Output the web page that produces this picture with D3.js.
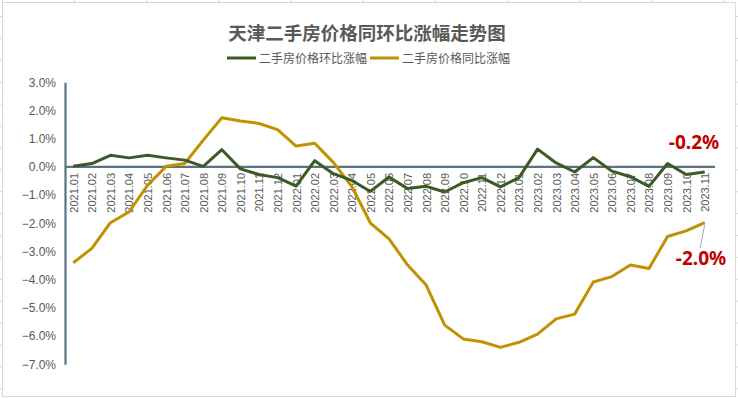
<!DOCTYPE html>
<html><head><meta charset="utf-8">
<script src="https://cdn.jsdelivr.net/npm/d3@7/dist/d3.min.js"></script>
<style>
html,body{margin:0;padding:0;background:#fff;}
svg{display:block;font-family:"Noto Sans CJK SC","Noto Sans",sans-serif;}
</style></head>
<body><svg id="c" width="738" height="398"></svg>
<script>
const categories = ["2021.01","2021.02","2021.03","2021.04","2021.05","2021.06","2021.07","2021.08","2021.09","2021.10","2021.11","2021.12",
"2022.01","2022.02","2022.03","2022.04","2022.05","2022.06","2022.07","2022.08","2022.09","2022.10","2022.11","2022.12",
"2023.01","2023.02","2023.03","2023.04","2023.05","2023.06","2023.07","2023.08","2023.09","2023.10","2023.11"];
const momValues = [0.02,0.12,0.41,0.32,0.41,0.32,0.24,0.02,0.61,-0.07,-0.27,-0.38,
-0.68,0.22,-0.24,-0.48,-0.87,-0.36,-0.77,-0.69,-0.89,-0.56,-0.38,-0.71,
-0.38,0.63,0.14,-0.18,0.33,-0.15,-0.35,-0.69,0.12,-0.27,-0.18];
const yoyValues = [-3.40,-2.89,-1.98,-1.60,-0.65,0.02,0.12,0.95,1.74,1.63,1.54,1.32,
0.74,0.84,0.16,-0.70,-1.99,-2.55,-3.48,-4.19,-5.61,-6.10,-6.20,-6.40,
-6.22,-5.93,-5.39,-5.22,-4.08,-3.89,-3.48,-3.60,-2.47,-2.27,-1.98];
const yTicks = [3,2,1,0,-1,-2,-3,-4,-5,-6,-7];
const seriesNames = ["二手房价格环比涨幅","二手房价格同比涨幅"];
const title = "天津二手房价格同环比涨幅走势图";
const lastLabels = ["-0.2%","-2.0%"];

const svg = d3.select("#c");
// spreadsheet grid stubs
const gridG = svg.append("g").attr("stroke","#d9d9d9").attr("stroke-width",1);
for (let x=2.5; x<738; x+=72.1) gridG.append("line").attr("x1",x).attr("x2",x).attr("y1",0).attr("y2",3);
for (let y=16.5; y<398; y+=21.9) { gridG.append("line").attr("x1",0).attr("x2",3).attr("y1",y).attr("y2",y);
  gridG.append("line").attr("x1",735).attr("x2",738).attr("y1",y).attr("y2",y); }
svg.append("rect").attr("x",2.5).attr("y",2.5).attr("width",733).attr("height",394)
  .attr("fill","#fff").attr("stroke","#d9d9d9").attr("stroke-width",1);

const x = d3.scalePoint().domain(categories).range([64,714]).padding(0.5);
const y = d3.scaleLinear().domain([-7,3]).range([364.3,82.3]);
const axisColor = "#5a7282";

// title
svg.append("text").attr("x",367).attr("y",40).attr("text-anchor","middle")
  .attr("font-size",18.5).attr("font-weight","bold").attr("fill","#595959").text(title);

// legend
const legendItems = [{name:seriesNames[0],color:"#3b5a25",x:227},{name:seriesNames[1],color:"#c09100",x:370}];
legendItems.forEach(d=>{
  svg.append("line").attr("x1",d.x).attr("x2",d.x+29).attr("y1",58).attr("y2",58)
    .attr("stroke",d.color).attr("stroke-width",3);
  svg.append("text").attr("x",d.x+32).attr("y",62.5).attr("font-size",12).attr("fill","#595959").text(d.name);
});

// y axis
const yAxis = d3.axisLeft(y).tickValues(yTicks).tickSize(0).tickPadding(9).tickFormat(d=>d3.format(".1f")(d)+"%");
const gy = svg.append("g").attr("transform","translate(65,0)").call(yAxis);
gy.select(".domain").attr("stroke",axisColor).attr("stroke-width",2.2);
gy.selectAll("text").attr("font-size",12).attr("fill","#595959").attr("font-family","Liberation Sans, Arial, sans-serif");

// zero line
svg.append("line").attr("x1",65).attr("x2",715).attr("y1",y(0)).attr("y2",y(0))
  .attr("stroke",axisColor).attr("stroke-width",2.2);

// x labels
const xAxis = d3.axisBottom(x).tickSize(0);
const gx = svg.append("g").attr("transform",`translate(0,${y(0)})`).call(xAxis);
gx.select(".domain").remove();
gx.selectAll("text").attr("font-size",11).attr("fill","#595959").attr("font-family","Liberation Sans, Arial, sans-serif")
  .attr("text-anchor","end").attr("dy","0.35em")
  .attr("transform","translate(0,6) rotate(-90)").attr("x",0).attr("y",0);

// lines
const line = vals => d3.line().x((d,i)=>x(categories[i])).y(d=>y(d))(vals);
svg.append("path").attr("d",line(yoyValues)).attr("fill","none").attr("stroke","#c09100")
  .attr("stroke-width",3).attr("stroke-linejoin","round");
svg.append("path").attr("d",line(momValues)).attr("fill","none").attr("stroke","#3b5a25")
  .attr("stroke-width",3).attr("stroke-linejoin","round");

// data labels
const lastCat = categories[categories.length-1];
svg.append("text").attr("x",694).attr("y",149).attr("text-anchor","middle").attr("font-size",19)
  .attr("font-weight","bold").attr("fill","#c00000").attr("font-family","Noto Sans, sans-serif").text(lastLabels[0]);
svg.append("line").attr("x1",x(lastCat)).attr("y1",y(yoyValues[yoyValues.length-1])+2)
  .attr("x2",x(lastCat)-4.5).attr("y2",y(yoyValues[yoyValues.length-1])+25)
  .attr("stroke","#a6a6a6").attr("stroke-width",1);
svg.append("text").attr("x",701).attr("y",265).attr("text-anchor","middle").attr("font-size",19)
  .attr("font-weight","bold").attr("fill","#c00000").attr("font-family","Noto Sans, sans-serif").text(lastLabels[1]);
</script></body></html>
